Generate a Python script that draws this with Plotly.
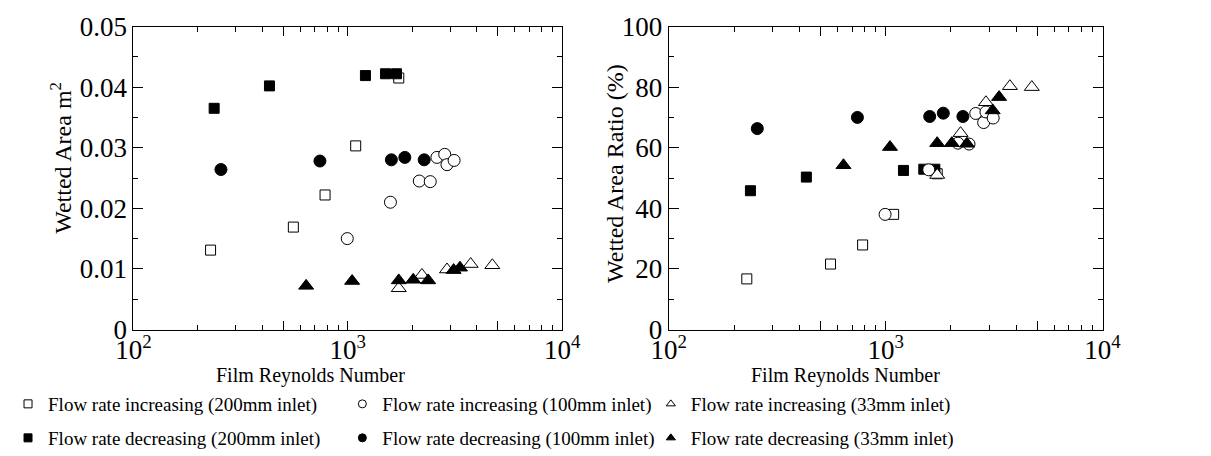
import plotly.graph_objects as go

# ---------------- data ----------------
# Film Reynolds number of each measurement
re_inc200 = [229, 557, 783, 1088, 1728]
re_dec200 = [238, 431, 1208, 1499, 1686]
re_inc100 = [994, 1580, 2154, 2423, 2602, 2830, 2900, 3131]
re_dec100 = [256, 741, 1596, 1844, 2270]
re_inc33 = [1728, 2215, 2900, 3740, 4718]
re_dec33 = [639, 1047, 1728, 2018, 2370, 3115, 3333]

# Wetted area (m^2)
area_inc200 = [0.0131, 0.0169, 0.0222, 0.0303, 0.0415]
area_dec200 = [0.0365, 0.0402, 0.0419, 0.0422, 0.0422]
area_inc100 = [0.0150, 0.0210, 0.0245, 0.0244, 0.0284, 0.0289, 0.0272, 0.0279]
area_dec100 = [0.0264, 0.0278, 0.0280, 0.0284, 0.0280]
area_inc33 = [0.0068, 0.0090, 0.0099, 0.0108, 0.0106]
area_dec33 = [0.0072, 0.0080, 0.0081, 0.0082, 0.0081, 0.0098, 0.0102]

# Wetted area ratio (%)
ratio_inc200 = [16.7, 21.6, 27.9, 38.0, 51.4]
ratio_dec200 = [45.8, 50.3, 52.5, 52.9, 52.9]
ratio_inc100 = [38.0, 52.7, 61.5, 61.2, 71.3, 68.3, 71.8, 69.8]
ratio_dec100 = [66.3, 70.0, 70.3, 71.4, 70.3]
ratio_inc33 = [51.0, 64.8, 75.0, 80.3, 80.0]
ratio_dec33 = [54.2, 60.2, 61.5, 61.5, 61.3, 72.3, 76.7]

legend_labels = [
    "Flow rate increasing (200mm inlet)",
    "Flow rate decreasing (200mm inlet)",
    "Flow rate increasing (100mm inlet)",
    "Flow rate decreasing (100mm inlet)",
    "Flow rate increasing (33mm inlet)",
    "Flow rate decreasing (33mm inlet)",
]

x_tickvals = [100, 500, 1000, 5000, 10000]
x_ticktext = ["10<sup>2</sup>", "", "10<sup>3</sup>", "", "10<sup>4</sup>"]
x_minor = [200, 300, 400, 600, 700, 800, 900, 2000, 3000, 4000, 6000, 7000, 8000, 9000]
area_ticks = [0, 0.01, 0.02, 0.03, 0.04, 0.05]
area_ticktext = ["0", "0.01", "0.02", "0.03", "0.04", "0.05"]
ratio_ticks = [0, 20, 40, 60, 80, 100]

# ---------------- figure ----------------
W, H = 1211, 456
FONT = "Liberation Serif"
TICK_SIZE = 27
YTITLE_SIZE = 24
XTITLE_SIZE = 20
LEGEND_SIZE = 19

series = [
    # (re, area, ratio, symbol, filled, size)
    (re_inc200, area_inc200, ratio_inc200, "square", False, 10),
    (re_dec200, area_dec200, ratio_dec200, "square", True, 10),
    (re_inc100, area_inc100, ratio_inc100, "circle", False, 12),
    (re_dec100, area_dec100, ratio_dec100, "circle", True, 12),
    (re_inc33, area_inc33, ratio_inc33, "triangle-up", False, 13),
    (re_dec33, area_dec33, ratio_dec33, "triangle-up", True, 13),
]

fig = go.Figure()
for re_, area, ratio, sym, filled, size in series:
    marker = dict(symbol=sym, size=size, color="black" if filled else "white",
                  line=dict(color="black", width=1))
    fig.add_trace(go.Scatter(x=re_, y=area, mode="markers", marker=marker,
                             showlegend=False, xaxis="x", yaxis="y"))
    fig.add_trace(go.Scatter(x=re_, y=ratio, mode="markers", marker=marker,
                             showlegend=False, xaxis="x2", yaxis="y2"))

# legend entries (one small legend per entry, laid out as in the reference)
leg_text_px = [34, 370, 680]         # where the text of each column starts
leg_rows_px = [396, 430]             # vertical centre of each row
legend_layout = {}
for i, (lab, (_, _, _, sym, filled, _)) in enumerate(zip(legend_labels, series)):
    name = "legend" if i == 0 else f"legend{i+1}"
    col, row = i // 2, i % 2
    fig.add_trace(go.Scatter(
        x=[None], y=[None], mode="markers", name=lab, legend=name,
        marker=dict(symbol=sym, size=8, color="black" if filled else "white",
                    line=dict(color="black", width=1)),
        xaxis="x", yaxis="y"))
    legend_layout[name] = dict(
        x=(leg_text_px[col] - 40) / W, y=1 - leg_rows_px[row] / H,
        xanchor="left", yanchor="middle", bgcolor="rgba(0,0,0,0)",
        borderwidth=0, font=dict(family=FONT, size=LEGEND_SIZE, color="black"),
        itemwidth=30)

axis_common = dict(showline=True, linecolor="black", linewidth=1, mirror="ticks",
                   ticks="inside", tickcolor="black", tickwidth=1, showgrid=False,
                   zeroline=False, automargin=False,
                   tickfont=dict(family=FONT, size=TICK_SIZE, color="black"))

xl = [120 / W, 551 / W]
xr = [658 / W, 1094 / W]
yd = [1 - 321.5 / H, 1 - 18.5 / H]

xaxis_common = dict(axis_common, type="log", range=[2, 4], tickmode="array",
                    tickvals=x_tickvals, ticktext=x_ticktext, ticklen=9,
                    ticklabelstandoff=-4,
                    minor=dict(tickmode="array", tickvals=x_minor, ticklen=5,
                               ticks="inside", tickcolor="black", tickwidth=1))

fig.update_layout(
    width=W, height=H, margin=dict(l=0, r=0, t=0, b=0),
    paper_bgcolor="white", plot_bgcolor="white",
    font=dict(family=FONT, color="black"),
    xaxis=dict(xaxis_common, domain=xl, anchor="y"),
    yaxis=dict(axis_common, domain=yd, anchor="x", range=[0, 0.05],
               tickmode="array", tickvals=area_ticks, ticktext=area_ticktext,
               ticklen=10,
               minor=dict(dtick=0.005, ticklen=5, ticks="inside",
                          tickcolor="black", tickwidth=1)),
    xaxis2=dict(xaxis_common, domain=xr, anchor="y2"),
    yaxis2=dict(axis_common, domain=yd, anchor="x2", range=[0, 100],
                tickmode="array", tickvals=ratio_ticks, ticklen=10,
                minor=dict(dtick=10, ticklen=5, ticks="inside",
                           tickcolor="black", tickwidth=1)),
    annotations=[
        dict(text="Film Reynolds Number", xref="paper", yref="paper",
             x=201 / W, y=1 - 367 / H, showarrow=False,
             xanchor="left", yanchor="middle",
             font=dict(family=FONT, size=XTITLE_SIZE, color="black")),
        dict(text="Film Reynolds Number", xref="paper", yref="paper",
             x=739 / W, y=1 - 367 / H, showarrow=False,
             xanchor="left", yanchor="middle",
             font=dict(family=FONT, size=XTITLE_SIZE, color="black")),
        dict(text="Wetted Area m<sup>2</sup>", xref="paper", yref="paper",
             x=47 / W, y=1 - 150 / H, showarrow=False, textangle=-90,
             xanchor="center", yanchor="middle",
             font=dict(family=FONT, size=YTITLE_SIZE, color="black")),
        dict(text="Wetted Area Ratio (%)", xref="paper", yref="paper",
             x=604 / W, y=1 - 166 / H, showarrow=False, textangle=-90,
             xanchor="center", yanchor="middle",
             font=dict(family=FONT, size=YTITLE_SIZE, color="black")),
    ],
    **legend_layout,
)

fig.write_html("out.html")
